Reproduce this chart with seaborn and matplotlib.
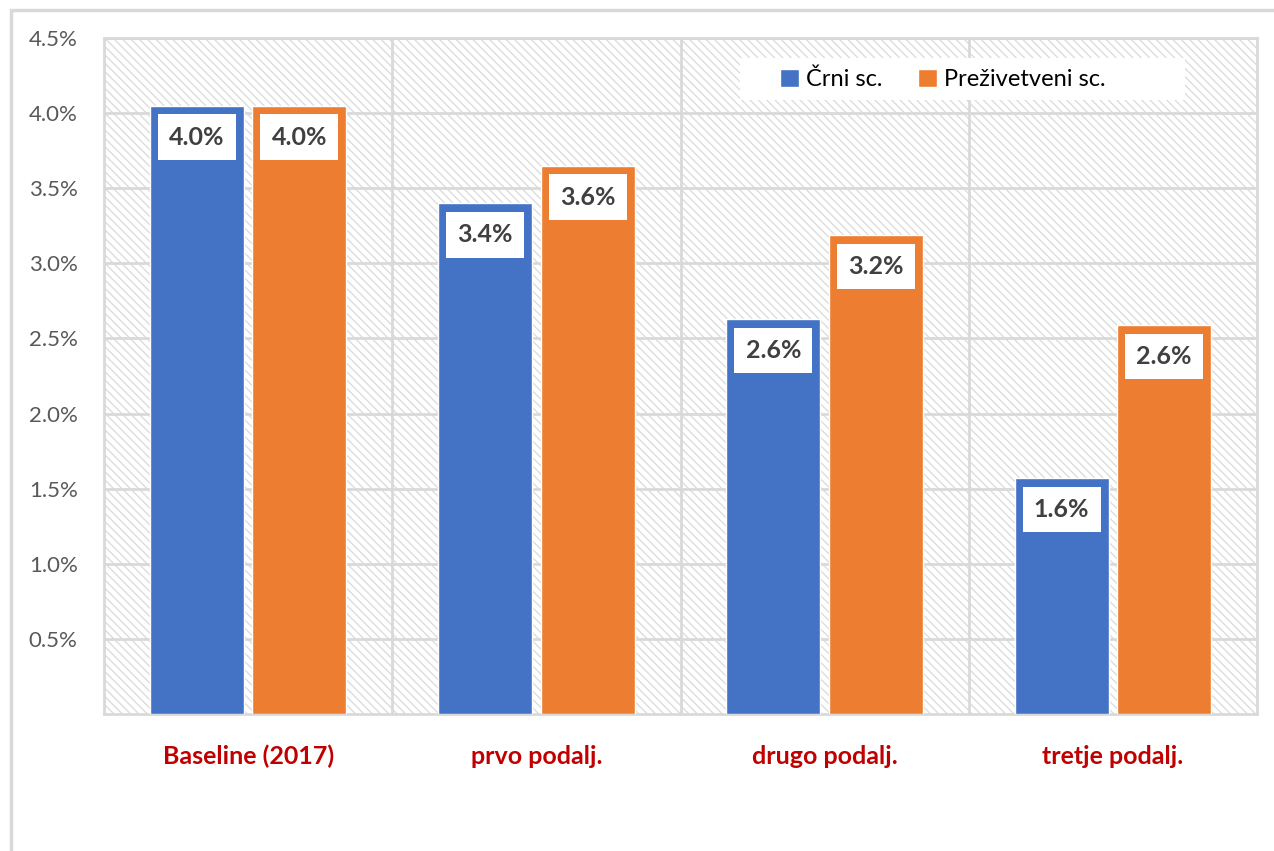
import pandas as pd
import matplotlib.pyplot as plt
import seaborn as sns
from matplotlib.patches import Rectangle
from matplotlib.ticker import FuncFormatter

# Values (in %)
categories = ["Baseline (2017)", "prvo podalj.", "drugo podalj.", "tretje podalj."]
crni = [4.05, 3.40, 2.63, 1.57]
prezivetveni = [4.05, 3.65, 3.19, 2.59]
crni_labels = ["4.0%", "3.4%", "2.6%", "1.6%"]
prez_labels = ["4.0%", "3.6%", "3.2%", "2.6%"]
series = ["Črni sc.", "Preživetveni sc."]
yticks = [0.5, 1.0, 1.5, 2.0, 2.5, 3.0, 3.5, 4.0, 4.5]

df = pd.DataFrame({
    "Kategorija": categories * 2,
    "Vrednost": crni + prezivetveni,
    "Scenarij": [series[0]] * 4 + [series[1]] * 4,
})

sns.set_style("white")
plt.rcParams["font.family"] = ["Lato", "DejaVu Sans"]
plt.rcParams["hatch.linewidth"] = 1.0

W, H = 1274, 851
fig = plt.figure(figsize=(12.74, 8.51), dpi=100)
ax = fig.add_axes([104 / W, 1 - 714 / H, (1257 - 104) / W, (714 - 38) / H])

# outer chart border
fig.patches.append(Rectangle((11 / W, -0.1), 1.2, 1.1 - 10 / H, transform=fig.transFigure,
                             facecolor="none", edgecolor="#d9d9d9", linewidth=2.5))

# hatched plot background
ax.patch.set_visible(False)
ax.add_patch(Rectangle((0, 0), 1, 1, transform=ax.transAxes, facecolor="white",
                       edgecolor="#dcdcdc", hatch="\\\\\\\\", linewidth=0, zorder=0))

sns.barplot(data=df, x="Kategorija", y="Vrednost", hue="Scenarij",
            palette=["#4472C4", "#ED7D31"], width=0.712, gap=0.084,
            saturation=1, ax=ax, zorder=3, legend=True)

ax.set_xlim(-0.5, 3.5)
ax.set_ylim(0, 4.5)
ax.set_yticks(yticks)
ax.yaxis.set_major_formatter(FuncFormatter(lambda v, p: f"{v:.1f}%"))
ax.set_xticks([0.5, 1.5, 2.5], minor=True)
ax.grid(True, which="major", axis="y", color="#d9d9d9", linewidth=2, zorder=1)
ax.grid(True, which="minor", axis="x", color="#d9d9d9", linewidth=2, zorder=1)
ax.tick_params(axis="both", which="both", length=0)
ax.tick_params(axis="y", labelsize=16, labelcolor="#595959", pad=19)
ax.tick_params(axis="x", pad=22)
for lab in ax.get_xticklabels():
    lab.set_fontweight("bold")
    lab.set_color("#C00000")
    lab.set_fontsize(18)
ax.set_xlabel("")
ax.set_ylabel("")
for name, sp in ax.spines.items():
    sp.set_color("#d9d9d9")
    sp.set_linewidth(2)

# data labels
for container, labels in zip(ax.containers, [crni_labels, prez_labels]):
    ax.bar_label(container, labels=labels, padding=-31, fontsize=18, fontweight="bold",
                 color="#404040", label_type="edge",
                 bbox=dict(facecolor="white", edgecolor="none", boxstyle="square,pad=0.45"))

# legend: white box behind, legend itself without frame
ax.add_patch(Rectangle((740 / W, 1 - 100 / H), 445 / W, 42 / H, transform=fig.transFigure,
                       facecolor="white", edgecolor="none", zorder=4, clip_on=False))
handles, lbls = ax.get_legend_handles_labels()
leg = ax.legend(handles, lbls, loc="center left", bbox_to_anchor=(780 / W, 1 - 79 / H),
                bbox_transform=fig.transFigure, ncol=2, frameon=False, fontsize=17,
                labelcolor="black", handlelength=0.8, handleheight=0.8, handletextpad=0.3,
                columnspacing=1.5, borderpad=0, borderaxespad=0)
leg.set_zorder(5)

fig.savefig("out.png", dpi=100)
